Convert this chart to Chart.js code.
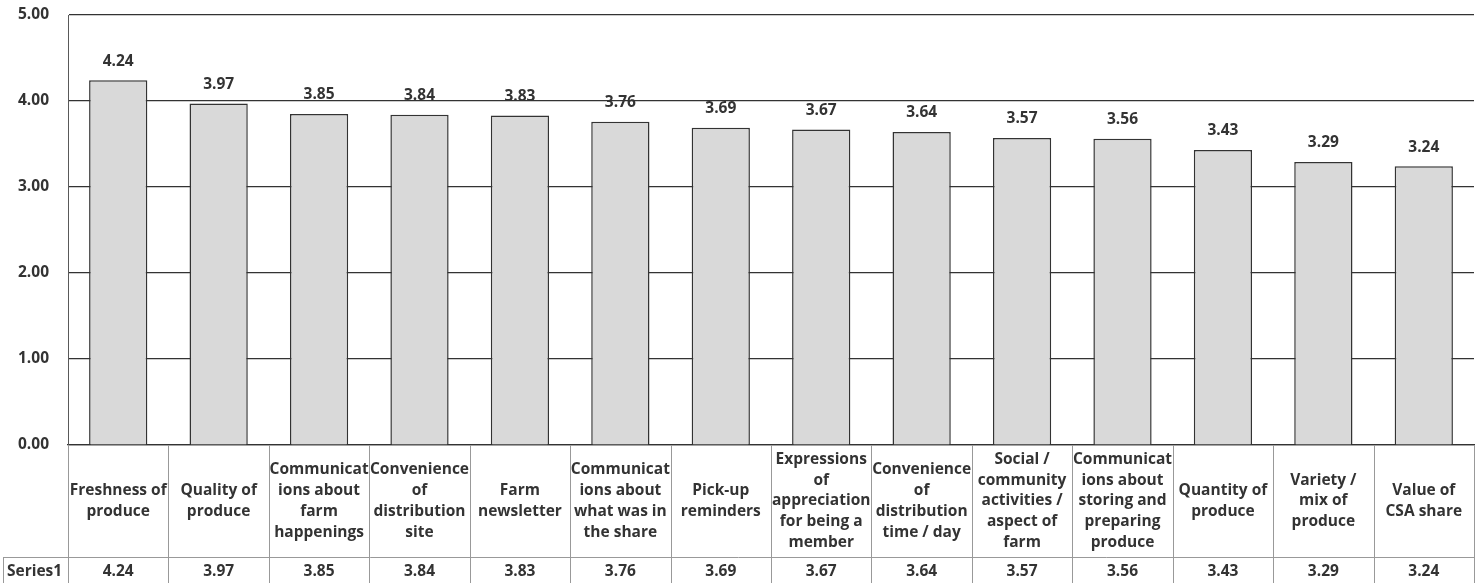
<!DOCTYPE html>
<html>
<head>
<meta charset="utf-8">
<script src="https://cdn.jsdelivr.net/npm/chart.js@4/dist/chart.umd.min.js"></script>
<style>
  html, body { margin: 0; padding: 0; background: #fff; }
  #wrap { width: 1483px; height: 583px; position: relative; }
</style>
</head>
<body>
<div id="wrap"><canvas id="chart"></canvas></div>
<script>
// categories as in the sheet
const categories = [
  "Freshness of produce", "Quality of produce", "Communications about farm happenings",
  "Convenience of distribution site", "Farm newsletter", "Communications about what was in the share",
  "Pick-up reminders", "Expressions of appreciation for being a member",
  "Convenience of distribution time / day", "Social / community activities / aspect of farm",
  "Communications about storing and preparing produce", "Quantity of produce",
  "Variety / mix of produce", "Value of CSA share"
];
// tick labels, wrapped like excel does it
const tickLines = [
  ["Freshness of", "produce"],
  ["Quality of", "produce"],
  ["Communicat", "ions about", "farm", "happenings"],
  ["Convenience", "of", "distribution", "site"],
  ["Farm", "newsletter"],
  ["Communicat", "ions about", "what was in", "the share"],
  ["Pick-up", "reminders"],
  ["Expressions", "of", "appreciation", "for being a", "member"],
  ["Convenience", "of", "distribution", "time / day"],
  ["Social /", "community", "activities /", "aspect of", "farm"],
  ["Communicat", "ions about", "storing and", "preparing", "produce"],
  ["Quantity of", "produce"],
  ["Variety /", "mix of", "produce"],
  ["Value of", "CSA share"]
];
const seriesName = "Series1";
const series1 = [4.24, 3.97, 3.85, 3.84, 3.83, 3.76, 3.69, 3.67, 3.64, 3.57, 3.56, 3.43, 3.29, 3.24];
const yTicks = [0, 1, 2, 3, 4, 5];

const FONT = '"Open Sans", "Noto Sans", sans-serif';
const TXT = "#333333";
const FONT_CSS = "bold 15.5px " + FONT;

// draws value labels, category cells and the data table row
const tablePlugin = {
  id: "tablePlugin",
  afterDraw(chart) {
    const ctx = chart.ctx;
    const x = chart.scales.x;
    const y = chart.scales.y;
    const area = chart.chartArea;
    const step = x.width / categories.length;
    const rowTop = 557;
    const bottom = chart.height;

    ctx.save();
    ctx.font = FONT_CSS;
    ctx.fillStyle = TXT;
    ctx.textAlign = "center";
    ctx.textBaseline = "middle";

    // value labels above bars
    series1.forEach((v, i) => {
      ctx.fillText(v.toFixed(2), x.getPixelForValue(i), y.getPixelForValue(v) - 19);
    });

    // category labels
    const midY = (area.bottom + rowTop) / 2;
    const lh = 20.8;
    tickLines.forEach((lines, i) => {
      const cx = x.getPixelForValue(i);
      const y0 = midY - (lines.length - 1) * lh / 2;
      lines.forEach((ln, k) => ctx.fillText(ln, cx, y0 + k * lh));
    });

    // data table row
    series1.forEach((v, i) => {
      ctx.fillText(v.toFixed(2), x.getPixelForValue(i), rowTop + 15);
    });
    ctx.textAlign = "left";
    ctx.fillText(seriesName, 7, rowTop + 15);

    // cell lines
    ctx.strokeStyle = "#999999";
    ctx.lineWidth = 1;
    ctx.beginPath();
    for (let i = 0; i <= categories.length; i++) {
      const bx = Math.round(x.getPixelForValue(i) - step / 2) + 0.5;
      ctx.moveTo(bx, area.bottom);
      ctx.lineTo(bx, bottom);
    }
    ctx.moveTo(3.5, rowTop);
    ctx.lineTo(3.5, bottom);
    ctx.moveTo(3, rowTop + 0.5);
    ctx.lineTo(area.right, rowTop + 0.5);
    ctx.stroke();

    ctx.restore();
  }
};

new Chart(document.getElementById("chart"), {
  type: "bar",
  data: {
    labels: categories,
    datasets: [{
      label: seriesName,
      data: series1,
      backgroundColor: "#d9d9d9",
      borderColor: "#333333",
      borderWidth: 1.5,
      barPercentage: 1,
      categoryPercentage: 0.58,
    }],
  },
  options: {
    animation: false,
    responsive: true,
    maintainAspectRatio: false,
    layout: { padding: { top: 15, right: 9, left: 0, bottom: 0 } },
    plugins: {
      legend: { display: false },
      tooltip: { enabled: false },
    },
    scales: {
      x: {
        ticks: { display: false },
        grid: { display: false },
        border: { display: true, color: "#333333", width: 1.3 },
        afterFit: (scale) => { scale.height = 138; },
      },
      y: {
        min: yTicks[0],
        max: yTicks[yTicks.length - 1],
        afterBuildTicks: (scale) => { scale.ticks = yTicks.map((v) => ({ value: v })); },
        ticks: {
          padding: 19,
          color: TXT,
          font: { family: FONT, size: 15.5, weight: "bold" },
          callback: (v) => Number(v).toFixed(2),
        },
        grid: { color: "#333333", lineWidth: 1.2, drawTicks: false },
        border: { display: true, color: "#595959", width: 1 },
        afterFit: (scale) => {
          scale.width = 68;
          scale.paddingTop = 0;
          scale.paddingBottom = 0;
        },
      },
    },
  },
  plugins: [tablePlugin],
});
</script>
</body>
</html>
